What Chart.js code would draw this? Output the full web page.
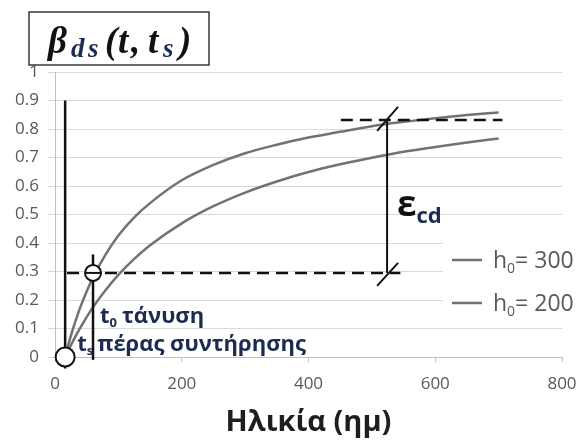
<!DOCTYPE html>
<html>
<head>
<meta charset="utf-8">
<script src="https://cdn.jsdelivr.net/npm/chart.js@4/dist/chart.umd.min.js"></script>
<style>
  html, body { margin: 0; padding: 0; background: #ffffff; }
  #wrap { width: 582px; height: 441px; }
</style>
</head>
<body>
<div id="wrap"><canvas id="c" width="582" height="441"></canvas></div>
<script>
// Age of concrete (days) and drying-shrinkage development factor
const ages    = [16, 20, 25, 30, 40, 50, 60, 80, 100, 125, 150, 200, 250, 300, 350, 400, 450, 500, 550, 600, 650, 700];
const beta300 = [0, 0.019, 0.041, 0.063, 0.103, 0.14, 0.175, 0.235, 0.288, 0.344, 0.392, 0.469, 0.529, 0.577, 0.616, 0.649, 0.676, 0.699, 0.72, 0.737, 0.753, 0.767];
const beta200 = [0, 0.034, 0.074, 0.11, 0.175, 0.23, 0.28, 0.36, 0.426, 0.49, 0.54, 0.62, 0.674, 0.715, 0.745, 0.77, 0.79, 0.81, 0.825, 0.838, 0.849, 0.858];
const seriesNames = ['h₀= 300', 'h₀= 200'];

const xTickLabels = ['0', '200', '400', '600', '800'];
const yTickLabels = ['0', '0.1', '0.2', '0.3', '0.4', '0.5', '0.6', '0.7', '0.8', '0.9', '1'];

// Key instants: end of curing (ts), loading (t0), and the age where εcd is marked
const tS = 16;
const t0 = 60;
const tCd = 524;
const levelT0 = 0.295;
const levelCd = 0.832;
const tsLineSpan = [0.9, -0.04];
const t0LineSpan = [0.36, -0.01];
const dashT0Span = [19, 545];
const dashCdSpan = [451, 706];

const GREY = '#727272';
const INK = '#111111';
const NAVY = '#1c2b52';

function richText(ctx, x, y, parts) {
  for (const p of parts) {
    ctx.font = p.font;
    ctx.fillStyle = p.color;
    const px = p.at !== undefined ? p.at : x;
    ctx.fillText(p.t, px, y + (p.dy || 0));
    x = px + ctx.measureText(p.t).width + (p.gap || 0);
  }
}

function splitSub(label) {
  // 'h₀= 300' -> h, 0 (subscript), '= 300'
  const i = label.indexOf('₀');
  return [label.slice(0, i), '0', label.slice(i + 1)];
}

const overlay = {
  id: 'overlay',
  afterDatasetsDraw(chart) {
    const { ctx, scales: { x, y } } = chart;
    const px = v => x.getPixelForValue(v);
    const py = v => y.getPixelForValue(v);
    const seg = (x1, y1, x2, y2) => { ctx.beginPath(); ctx.moveTo(x1, y1); ctx.lineTo(x2, y2); ctx.stroke(); };
    ctx.save();
    ctx.strokeStyle = INK;
    ctx.lineCap = 'butt';

    // dashed reference levels
    ctx.lineWidth = 2.5;
    ctx.setLineDash([12, 7]);
    seg(px(dashT0Span[0]), py(levelT0), px(dashT0Span[1]), py(levelT0));
    seg(px(dashCdSpan[0]), py(levelCd), px(dashCdSpan[1]), py(levelCd));
    ctx.setLineDash([]);

    // vertical markers at ts and t0
    ctx.lineWidth = 2.5;
    seg(px(tS), py(tsLineSpan[0]), px(tS), py(tsLineSpan[1]));
    seg(px(t0), py(t0LineSpan[0]), px(t0), py(t0LineSpan[1]));

    // εcd span with end slashes
    ctx.lineWidth = 2;
    const xc = px(tCd), yTop = py(levelCd), yBot = py(levelT0);
    seg(xc, yTop, xc, yBot);
    seg(xc - 10, yTop + 11, xc + 11, yTop - 13);
    seg(xc - 10, yBot + 13, xc + 11, yBot - 10);

    // circles
    ctx.lineWidth = 2;
    ctx.fillStyle = '#ffffff';
    ctx.beginPath(); ctx.arc(px(tS), py(0), 9.5, 0, Math.PI * 2); ctx.fill(); ctx.stroke();
    ctx.beginPath(); ctx.arc(px(t0), py(levelT0), 8, 0, Math.PI * 2); ctx.fill(); ctx.stroke();
    seg(px(t0) - 7, py(levelT0), px(t0) + 7, py(levelT0));

    // labels
    ctx.textBaseline = 'alphabetic';
    ctx.textAlign = 'left';
    const fMain = 'bold 22px "Open Sans"';
    const fSub = 'bold 13px "Open Sans"';
    richText(ctx, px(t0) + 7, py(0.12), [
      { t: 't', font: fMain, color: NAVY },
      { t: '0', font: fSub, color: NAVY, dy: 4, gap: 5 },
      { t: 'τάνυση', font: fMain, color: NAVY }
    ]);
    richText(ctx, px(tS) + 12, py(0.02), [
      { t: 't', font: fMain, color: NAVY },
      { t: 's', font: fSub, color: NAVY, dy: 4, gap: 4 },
      { t: 'πέρας συντήρησης', font: fMain, color: NAVY }
    ]);
    richText(ctx, xc + 10, py(0.495), [
      { t: 'ε', font: 'bold 35px "Open Sans"', color: INK },
      { t: 'cd', font: 'bold 22px "Open Sans"', color: NAVY, dy: 7 }
    ]);
    ctx.restore();
  },
  afterDraw(chart) {
    const { ctx } = chart;
    ctx.save();
    // legend
    const lx = 443, ly = 231;
    ctx.fillStyle = '#ffffff';
    ctx.fillRect(lx, ly, 582 - lx, 88);
    chart.data.datasets.forEach((ds, i) => {
      const cy = 260 + i * 43;
      ctx.strokeStyle = ds.borderColor;
      ctx.lineWidth = 2.5;
      ctx.beginPath(); ctx.moveTo(452, cy); ctx.lineTo(482, cy); ctx.stroke();
      const [a, s, b] = splitSub(ds.label);
      ctx.textBaseline = 'alphabetic';
      richText(ctx, 493, cy + 8, [
        { t: a, font: '23px "Open Sans"', color: '#595959' },
        { t: s, font: '14px "Open Sans"', color: '#595959', dy: 5 },
        { t: b, font: '23px "Open Sans"', color: '#595959' }
      ]);
    });

    // title box
    ctx.fillStyle = '#ffffff';
    ctx.strokeStyle = '#3a3a3a';
    ctx.lineWidth = 1.5;
    ctx.fillRect(29, 12, 180, 53);
    ctx.strokeRect(29, 12, 180, 53);
    const fT = 'italic bold 37px "Liberation Serif"';
    const fTs = 'italic bold 27px "Liberation Serif"';
    richText(ctx, 47, 53, [
      { t: 'β', font: fT, color: INK, at: 48 },
      { t: 'd', font: fTs, color: NAVY, dy: 4, at: 71 },
      { t: 's', font: fTs, color: NAVY, dy: 4, at: 88 },
      { t: '(', font: fT, color: INK, at: 105 },
      { t: 't', font: fT, color: INK, at: 118 },
      { t: ',', font: fT, color: INK, at: 131 },
      { t: 't', font: fT, color: INK, at: 148 },
      { t: 's', font: fTs, color: NAVY, dy: 4, at: 163 },
      { t: ')', font: fT, color: INK, at: 179 }
    ]);
    ctx.restore();
  }
};

const ctx = document.getElementById('c').getContext('2d');
new Chart(ctx, {
  type: 'line',
  data: {
    datasets: [
      { label: seriesNames[0], data: ages.map((t, i) => ({ x: t, y: beta300[i] })) },
      { label: seriesNames[1], data: ages.map((t, i) => ({ x: t, y: beta200[i] })) }
    ].map(d => Object.assign(d, {
      borderColor: GREY, borderWidth: 2.5, pointRadius: 0,
      cubicInterpolationMode: 'monotone', fill: false
    }))
  },
  options: {
    responsive: false,
    animation: false,
    devicePixelRatio: 1,
    layout: { padding: { top: 72, right: 20, left: 0, bottom: 0 } },
    plugins: { legend: { display: false }, tooltip: { enabled: false }, title: { display: false } },
    scales: {
      x: {
        type: 'linear', min: 0, max: 800,
        afterFit: s => { s.height = 84; s.paddingLeft = 0; s.paddingRight = 0; },
        ticks: { stepSize: 200, padding: 12, maxRotation: 0, color: '#595959', font: { family: 'Open Sans', size: 17 },
                 callback: (v, i) => xTickLabels[i] },
        grid: { drawOnChartArea: false, drawTicks: true, tickLength: 5, color: '#bfbfbf' },
        border: { color: '#bfbfbf' },
        title: { display: true, text: 'Ηλικία (ημ)', color: '#1e1e1e', padding: { top: 0, bottom: 1 },
                 font: { family: 'Open Sans', size: 29, weight: 'bold' } }
      },
      y: {
        type: 'linear', min: 0, max: 1,
        afterFit: s => { s.width = 55; s.paddingTop = 0; s.paddingBottom = 0; },
        ticks: { stepSize: 0.1, padding: 9, color: '#595959', font: { family: 'Open Sans', size: 17 },
                 callback: (v, i) => yTickLabels[i] },
        grid: { color: '#d9d9d9', tickLength: 7 },
        border: { color: '#bfbfbf' }
      }
    }
  },
  plugins: [overlay]
});
</script>
</body>
</html>
